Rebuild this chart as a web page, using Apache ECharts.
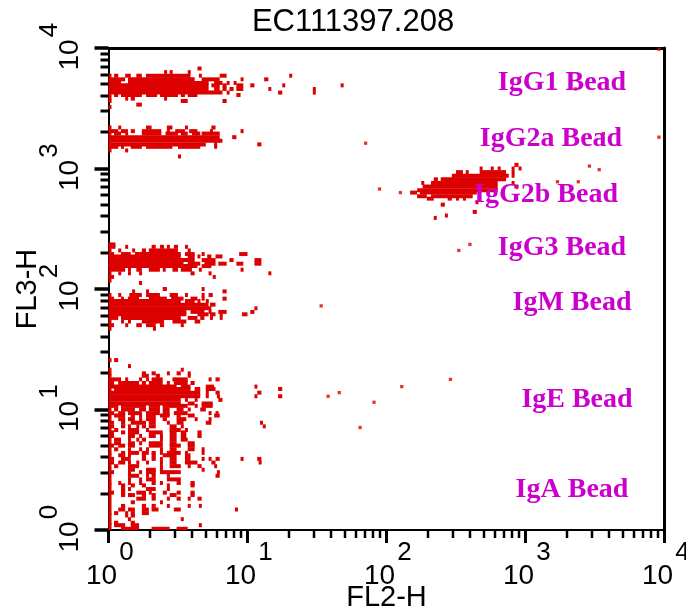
<!DOCTYPE html>
<html><head><meta charset="utf-8">
<script src="https://cdn.jsdelivr.net/npm/echarts@6/dist/echarts.min.js"></script>
<style>html,body{margin:0;padding:0;background:#fff}#c{width:686px;height:613px}</style>
</head><body><div id="c"></div>
<script>
// Values are log10 decades of the FL2-H (x) and FL3-H (y) signal.
// Dense populations: each row is [FL3-H, FL2start, FL2end, FL2start, FL2end, ...]
const igg1Rows = [
 [3.83, 0.64,0.67],
 [3.80, 0.40,0.42, 0.44,0.46, 0.57,0.59],
 [3.77, 0,0.01, 0.04,0.07, 0.12,0.16, 0.20,0.24, 0.27,0.59, 0.65,0.67, 0.80,0.85, 1.30,1.32],
 [3.74, 0,0.12, 0.14,0.62, 0.67,0.80, 0.95,0.97, 1.12,1.15],
 [3.71, 0,0.09, 0.14,0.72, 0.76,0.82, 0.85,0.87, 0.90,0.92],
 [3.69, 0,0.72, 0.74,0.80, 0.82,0.85, 0.92,0.97, 1.02,1.05, 1.25,1.27, 1.67,1.69],
 [3.66, 0,0.72, 0.76,0.80, 0.82,0.85, 0.87,0.90, 0.92,0.97, 1.15,1.17, 1.47,1.49],
 [3.63, 0,0.82, 0.85,0.87, 1.22,1.25, 1.47,1.49],
 [3.61, 0,0.01, 0.04,0.07, 0.09,0.24, 0.27,0.35, 0.37,0.50, 0.52,0.55, 0.57,0.64, 0.92,0.95],
 [3.58, 0,0.01, 0.12,0.14, 0.16,0.19, 0.40,0.42],
 [3.56, 0,0.01, 0.52,0.57, 0.82,0.85],
 [3.53, 0.20,0.24],
 [3.51, 0,0.01]
];
const igg2aRows = [
 [3.34, 0,0.01, 0.07,0.09, 0.27,0.31, 0.42,0.46, 0.55,0.57, 0.74,0.77],
 [3.31, 0,0.07, 0.09,0.14, 0.16,0.19, 0.24,0.38, 0.42,0.44, 0.48,0.55, 0.58,0.64, 0.73,0.75, 0.95,0.97],
 [3.29, 0,0.01, 0.04,0.09, 0.12,0.14, 0.24,0.38, 0.41,0.50, 0.52,0.57, 0.60,0.66, 0.67,0.80],
 [3.26, 0,0.80, 0.89,0.92],
 [3.23, 0,0.82],
 [3.20, 0,0.70, 0.76,0.78, 1.07,1.10],
 [3.18, 0,0.07, 0.09,0.11, 0.16,0.24, 0.27,0.46, 0.50,0.66, 0.76,0.78],
 [3.15, 0,0.01, 0.12,0.14],
 [3.10, 0.50,0.52]
];
const igg2bRows = [
 [3.03, 2.92,2.95],
 [3.00, 2.67,2.69, 2.75,2.77, 2.80,2.82, 2.90,2.92, 2.95,2.97],
 [2.97, 2.50,2.55, 2.57,2.59, 2.67,2.86, 2.90,2.92],
 [2.94, 2.47,2.88, 2.90,2.92],
 [2.91, 2.34,2.37, 2.39,2.86],
 [2.88, 2.25,2.27, 2.32,2.80, 2.90,2.92],
 [2.85, 2.26,2.80, 2.92,2.95],
 [2.82, 2.22,2.80],
 [2.80, 2.17,2.22, 2.24,2.65],
 [2.77, 2.22,2.29, 2.32,2.62],
 [2.75, 2.29,2.34, 2.44,2.47, 2.50,2.52, 2.55,2.57],
 [2.72, 2.64,2.66],
 [2.70, 2.39,2.42],
 [2.64, 2.62,2.65],
 [2.61, 2.42,2.44],
 [2.59, 2.34,2.36]
];
const igg3Rows = [
 [2.37, 0,0.05],
 [2.35, 0,0.05, 0.12,0.14, 0.31,0.34, 0.37,0.40, 0.42,0.44, 0.47,0.50, 0.55,0.57],
 [2.32, 0,0.01, 0.07,0.09, 0.17,0.19, 0.24,0.27, 0.29,0.50, 0.57,0.59],
 [2.29, 0,0.04, 0.09,0.16, 0.19,0.52, 0.55,0.62, 0.67,0.69, 0.94,1.00],
 [2.27, 0,0.52, 0.57,0.62, 0.64,0.66, 0.71,0.74, 0.77,0.82],
 [2.24, 0,0.62, 0.67,0.77, 0.87,0.90, 1.05,1.10],
 [2.21, 0,0.54, 0.57,0.66, 0.69,0.77, 0.79,0.85, 0.92,0.97, 1.05,1.10],
 [2.19, 0,0.64, 0.67,0.74],
 [2.16, 0,0.12, 0.14,0.16, 0.20,0.24, 0.29,0.37, 0.39,0.41, 0.46,0.50, 0.52,0.60, 0.65,0.67, 0.95,0.97],
 [2.13, 0,0.01, 0.07,0.09, 0.14,0.16, 0.22,0.24, 0.59,0.62, 0.72,0.74, 1.15,1.17],
 [2.10, 0,0.04, 0.75,0.77],
 [2.07, 0,0.01],
 [2.05, 0.22,0.24]
];
const igmRows = [
 [2.00, 0.39,0.42, 0.67,0.69],
 [1.98, 0.17,0.19, 0.27,0.29, 0.82,0.85],
 [1.95, 0,0.01, 0.07,0.09, 0.15,0.24, 0.27,0.37, 0.44,0.50, 0.55,0.57, 0.67,0.69, 0.72,0.75],
 [1.92, 0,0.04, 0.09,0.11, 0.14,0.22, 0.29,0.42, 0.45,0.54, 0.59,0.64, 0.67,0.69, 0.82,0.85],
 [1.90, 0,0.52, 0.55,0.62, 0.64,0.66, 0.70,0.72],
 [1.87, 0,0.72, 0.73,0.77],
 [1.84, 0,0.74, 1.05,1.07],
 [1.81, 0,0.56, 0.59,0.69, 0.72,0.74, 0.79,0.85, 1.02,1.05],
 [1.79, 0,0.56, 0.64,0.72, 0.73,0.77, 0.80,0.82, 0.96,1.00],
 [1.76, 0,0.07, 0.09,0.52, 0.57,0.64, 0.66,0.69, 0.73,0.75, 0.80,0.82],
 [1.73, 0,0.01, 0.09,0.11, 0.14,0.16, 0.24,0.40, 0.46,0.56, 0.62,0.66],
 [1.70, 0,0.04, 0.12,0.14, 0.20,0.24, 0.27,0.34, 0.37,0.40, 0.52,0.54],
 [1.67, 0,0.01, 0.32,0.34]
];
const igeIgaRows = [
 [1.41, 0,0.01, 0.04,0.07],
 [1.36, 0.14,0.16],
 [1.33, 0,0.01, 0.52,0.54],
 [1.30, 0,0.01, 0.24,0.27, 0.31,0.34, 0.42,0.44, 0.49,0.52, 0.57,0.59],
 [1.28, 0,0.01, 0.24,0.29, 0.34,0.37, 0.57,0.59],
 [1.25, 0,0.09, 0.12,0.14, 0.22,0.24, 0.27,0.29, 0.31,0.39, 0.46,0.57, 0.72,0.74, 0.77,0.80],
 [1.22, 0,0.04, 0.07,0.22, 0.24,0.27, 0.29,0.39, 0.42,0.44, 0.47,0.57, 0.59,0.62],
 [1.19, 0,0.49, 0.52,0.59, 0.70,0.76, 1.05,1.07],
 [1.17, 0,0.01, 0.04,0.59, 0.62,0.66, 0.70,0.77, 1.22,1.25],
 [1.14, 0,0.66, 0.70,0.72, 0.77,0.80, 1.07,1.10],
 [1.11, 0,0.66, 0.70,0.72, 0.78,0.80, 1.05,1.07, 1.22,1.25],
 [1.08, 0,0.52, 0.55,0.57, 0.62,0.64, 0.79,0.82],
 [1.05, 0,0.52, 0.57,0.62, 0.67,0.75],
 [1.03, 0,0.07, 0.09,0.27, 0.29,0.37, 0.39,0.57, 0.62,0.64, 0.67,0.75],
 [1.00, 0,0.01, 0.04,0.07, 0.09,0.19, 0.22,0.27, 0.29,0.37, 0.39,0.44, 0.49,0.54, 0.57,0.59, 0.66,0.70],
 [0.97, 0,0.04, 0.07,0.12, 0.14,0.24, 0.27,0.37, 0.39,0.44, 0.47,0.57, 0.72,0.74, 0.77,0.79],
 [0.95, 0,0.01, 0.04,0.12, 0.16,0.19, 0.22,0.24, 0.27,0.34, 0.37,0.44, 0.49,0.52, 0.57,0.62, 0.76,0.80],
 [0.92, 0,0.01, 0.07,0.12, 0.14,0.19, 0.22,0.24, 0.27,0.34, 0.39,0.42, 0.49,0.56, 0.62,0.64, 0.72,0.74],
 [0.89, 0,0.04, 0.09,0.12, 0.16,0.27, 0.29,0.34, 0.42,0.44, 0.49,0.54, 0.70,0.74, 1.09,1.11],
 [0.86, 0,0.04, 0.09,0.12, 0.14,0.16, 0.20,0.22, 0.24,0.27, 0.29,0.34, 0.44,0.49, 0.52,0.54, 1.11,1.13],
 [0.83, 0,0.01, 0.04,0.07, 0.14,0.22, 0.27,0.29, 0.44,0.52, 0.55,0.57],
 [0.81, 0,0.04, 0.09,0.12, 0.14,0.22, 0.29,0.39, 0.44,0.49, 0.52,0.56, 0.64,0.67],
 [0.78, 0,0.04, 0.14,0.19, 0.22,0.24, 0.29,0.34, 0.37,0.39, 0.44,0.49, 0.52,0.56, 0.64,0.67],
 [0.75, 0,0.01, 0.04,0.09, 0.14,0.16, 0.20,0.22, 0.24,0.27, 0.37,0.39, 0.44,0.49, 0.52,0.57],
 [0.72, 0,0.01, 0.04,0.09, 0.14,0.19, 0.22,0.24, 0.29,0.39, 0.44,0.49, 0.57,0.62],
 [0.70, 0,0.04, 0.07,0.12, 0.14,0.19, 0.29,0.39, 0.44,0.52, 0.57,0.62],
 [0.67, 0,0.01, 0.04,0.07, 0.14,0.16, 0.22,0.24, 0.27,0.29, 0.37,0.39, 0.44,0.49, 0.57,0.62, 0.67,0.69],
 [0.64, 0,0.01, 0.09,0.12, 0.14,0.22, 0.24,0.29, 0.31,0.34, 0.37,0.39, 0.42,0.52, 0.55,0.57, 0.67,0.69],
 [0.62, 0,0.01, 0.07,0.12, 0.14,0.16, 0.24,0.27, 0.31,0.34, 0.39,0.49, 0.55,0.59],
 [0.59, 0,0.04, 0.09,0.16, 0.24,0.27, 0.31,0.34, 0.37,0.39, 0.44,0.49, 0.55,0.59, 0.67,0.69, 0.72,0.74, 0.77,0.80, 0.95,0.97, 1.07,1.10],
 [0.56, 0,0.04, 0.07,0.12, 0.14,0.16, 0.20,0.22, 0.27,0.29, 0.37,0.39, 0.44,0.49, 0.55,0.64, 0.74,0.77, 1.08,1.10],
 [0.53, 0,0.01, 0.04,0.07, 0.14,0.22, 0.37,0.39, 0.44,0.52, 0.57,0.59, 0.64,0.67, 0.76,0.78],
 [0.50, 0,0.01, 0.14,0.19, 0.27,0.34, 0.37,0.39, 0.67,0.69],
 [0.48, 0,0.04, 0.14,0.16, 0.22,0.24, 0.27,0.34, 0.37,0.52, 0.78,0.80],
 [0.45, 0,0.01, 0.14,0.22, 0.27,0.29, 0.31,0.34, 0.42,0.44, 0.77,0.80],
 [0.42, 0,0.01, 0.14,0.16, 0.22,0.24, 0.27,0.34, 0.42,0.52],
 [0.39, 0,0.01, 0.07,0.09, 0.14,0.16, 0.22,0.24, 0.31,0.34, 0.37,0.39, 0.49,0.52, 0.59,0.62],
 [0.37, 0,0.01, 0.09,0.12, 0.16,0.19, 0.24,0.27, 0.42,0.44, 0.59,0.62],
 [0.34, 0,0.01, 0.09,0.12, 0.14,0.16, 0.27,0.34, 0.42,0.44],
 [0.31, 0,0.04, 0.09,0.12, 0.20,0.27, 0.29,0.31, 0.39,0.42, 0.49,0.52, 0.59,0.62],
 [0.29, 0,0.01, 0.09,0.12, 0.14,0.19, 0.24,0.27, 0.31,0.34, 0.44,0.49, 0.59,0.62],
 [0.26, 0,0.01, 0.20,0.27, 0.31,0.34, 0.42,0.44, 0.49,0.52, 0.57,0.59, 0.64,0.67],
 [0.23, 0,0.01, 0.16,0.19, 0.37,0.39],
 [0.20, 0,0.01, 0.09,0.12, 0.24,0.27, 0.31,0.34, 0.42,0.44, 0.57,0.59, 0.65,0.67],
 [0.17, 0,0.01, 0.07,0.12, 0.14,0.19, 0.24,0.29, 0.31,0.36, 0.47,0.52, 0.91,0.93],
 [0.14, 0,0.01, 0.04,0.07, 0.12,0.14, 0.16,0.19, 0.24,0.29],
 [0.12, 0,0.01, 0.12,0.14, 0.16,0.19],
 [0.09, 0,0.01, 0.14,0.16, 0.52,0.54],
 [0.06, 0,0.01, 0.04,0.07, 0.16,0.19],
 [0.04, 0,0.01, 0.04,0.12, 0.16,0.22, 0.65,0.67],
 [0.01, 0,0.01, 0.09,0.22, 0.31,0.44, 0.49,0.57]
];
// Isolated events: [FL2-H, FL3-H]
const sparseEvents = [
 [3.96,3.99],[3.36,3.66],[3.56,3.29],[3.96,3.26],[1.85,3.21],[3.46,3.02],[3.53,2.99],
 [3.23,2.89],[3.38,2.89],[1.95,2.83],[2.10,2.80],[2.52,2.32],[2.60,2.37],[1.53,1.86],
 [2.46,1.25],[2.11,1.19],[1.91,1.06],[1.81,0.85],[1.58,1.11],[1.66,1.14]
];
const beadNames = ['IgG1 Bead','IgG2a Bead','IgG2b Bead','IgG3 Bead','IgM Bead','IgE Bead','IgA Bead'];
const tickExponents = [0,1,2,3,4];
const minorMultipliers = [2,3,4,5,6,7,8,9];
const chartTitle = 'EC111397.208';
const xName = 'FL2-H', yName = 'FL3-H';

const RED = '#DD0000', MAG = '#CC00CC';
const minorVals = [];
tickExponents.slice(0, -1).forEach(e => minorMultipliers.forEach(m => minorVals.push(e + Math.log10(m))));

const segs = [];
[igg1Rows, igg2aRows, igg2bRows, igg3Rows, igmRows, igeIgaRows].forEach(rows => rows.forEach(r => {
  for (let i = 1; i < r.length; i += 2) segs.push([r[0], r[i], r[i + 1]]);
}));

const richX = {
  e: {fontFamily: 'Liberation Sans', fontSize: 26, color: '#000', lineHeight: 19, align: 'center', padding: [0, 0, 0, 36]},
  b: {fontFamily: 'Liberation Sans', fontSize: 28, color: '#000', lineHeight: 28, align: 'center', padding: [0, 14, 0, 0]}
};
const richY = {
  e: {fontFamily: 'Liberation Sans', fontSize: 26, color: '#000', lineHeight: 14, align: 'center', padding: [0, 0, 0, 36]},
  b: {fontFamily: 'Liberation Sans', fontSize: 28, color: '#000', lineHeight: 28, align: 'center', padding: [0, 14, 0, 0]}
};
const fmt = v => '{e|' + Math.round(v) + '}\n{b|10}';
const nameStyle = {fontFamily: 'Liberation Sans', fontSize: 29, color: '#000'};

const chart = echarts.init(document.getElementById('c'), null, {renderer: 'canvas'});
const beadPos = [[562,82.5],[551,139],[546,195],[562,247.5],[572,303],[577,399.5],[572,490]];
const texts = [
  {type: 'text', x: 353, y: 22.5, z: 100,
   style: {text: chartTitle, font: '31px "Liberation Sans"', fill: '#000', textAlign: 'center', textVerticalAlign: 'middle', verticalAlign: 'middle'}}
].concat(beadNames.map((n, i) => ({
   type: 'text', x: beadPos[i][0], y: beadPos[i][1], z: 100,
   style: {text: n, font: 'bold 28px "Liberation Serif"', fill: MAG, textAlign: 'center', textVerticalAlign: 'middle', verticalAlign: 'middle'}
})));
chart.setOption({
  animation: false,
  backgroundColor: '#fff',
  grid: {left: 108.5, right: 21.5, top: 48, bottom: 83, show: false, containLabel: false, outerBoundsMode: 'none'},
  xAxis: [
    {type: 'value', min: 0, max: 4, interval: 1, position: 'bottom',
     axisLine: {show: true, onZero: false, lineStyle: {color: '#000', width: 2}},
     axisTick: {show: true, inside: false, length: 13, lineStyle: {color: '#000', width: 3}},
     axisLabel: {margin: 13, formatter: fmt, rich: richX, hideOverlap: false},
     splitLine: {show: false},
     name: xName, nameLocation: 'middle', nameGap: 53, nameMoveOverlap: false, nameTextStyle: nameStyle},
    {type: 'value', min: 0, max: 4, position: 'top',
     axisLine: {show: true, onZero: false, lineStyle: {color: '#000', width: 3}},
     axisTick: {show: false}, axisLabel: {show: false}, splitLine: {show: false}}
  ],
  yAxis: [
    {type: 'value', min: 0, max: 4, interval: 1, position: 'left',
     axisLine: {show: true, onZero: false, lineStyle: {color: '#000', width: 2}},
     axisTick: {show: true, inside: false, length: 14, lineStyle: {color: '#000', width: 3.5}},
     axisLabel: {margin: 24, rotate: 90, formatter: fmt, rich: richY, hideOverlap: false},
     splitLine: {show: false},
     name: yName, nameLocation: 'middle', nameGap: 66, nameRotate: 90, nameMoveOverlap: false, nameTextStyle: nameStyle},
    {type: 'value', min: 0, max: 4, position: 'right',
     axisLine: {show: true, onZero: false, lineStyle: {color: '#000', width: 3}},
     axisTick: {show: false}, axisLabel: {show: false}, splitLine: {show: false}}
  ],
  series: [
    {type: 'custom', name: 'populations', clip: true, xAxisIndex: 0, yAxisIndex: 0,
     dimensions: ['FL3-H', 'FL2start', 'FL2end'],
     encode: {x: [1, 2], y: 0},
     data: segs,
     renderItem: function (params, api) {
       const y = api.value(0), x0 = api.value(1), x1 = api.value(2);
       const p0 = api.coord([x0, y]);
       const p1 = api.coord([x1, y]);
       const h = 4;
       const w = Math.max(p1[0] - p0[0], 3);
       return {type: 'rect', shape: {x: p0[0], y: p0[1] - h / 2, width: w, height: h},
               style: {fill: RED}};
     }},
    {type: 'scatter', name: 'events', xAxisIndex: 0, yAxisIndex: 0,
     symbol: 'rect', symbolSize: 3.3, itemStyle: {color: RED}, data: sparseEvents},
    // minor log ticks (2..9 within each decade), placed through the axis scales
    {type: 'custom', name: 'minorTicks', clip: false, silent: true, z: 5,
     xAxisIndex: 0, yAxisIndex: 0,
     encode: {x: 0, y: 1},
     data: minorVals.map(v => [v, v]),
     renderItem: function (params, api) {
       const v = api.value(0);
       const px = Math.round(api.coord([v, 0])[0]);
       const base = api.coord([0, 0]);
       const py = Math.round(api.coord([0, v])[1]);
       return {type: 'group', children: [
         {type: 'line', shape: {x1: px, y1: base[1], x2: px, y2: base[1] + 8}, style: {stroke: '#000', lineWidth: 2.5}},
         {type: 'line', shape: {x1: base[0], y1: py, x2: base[0] - 8, y2: py}, style: {stroke: '#000', lineWidth: 3}}
       ]};
     }}
  ],
  graphic: texts
});
</script></body></html>
